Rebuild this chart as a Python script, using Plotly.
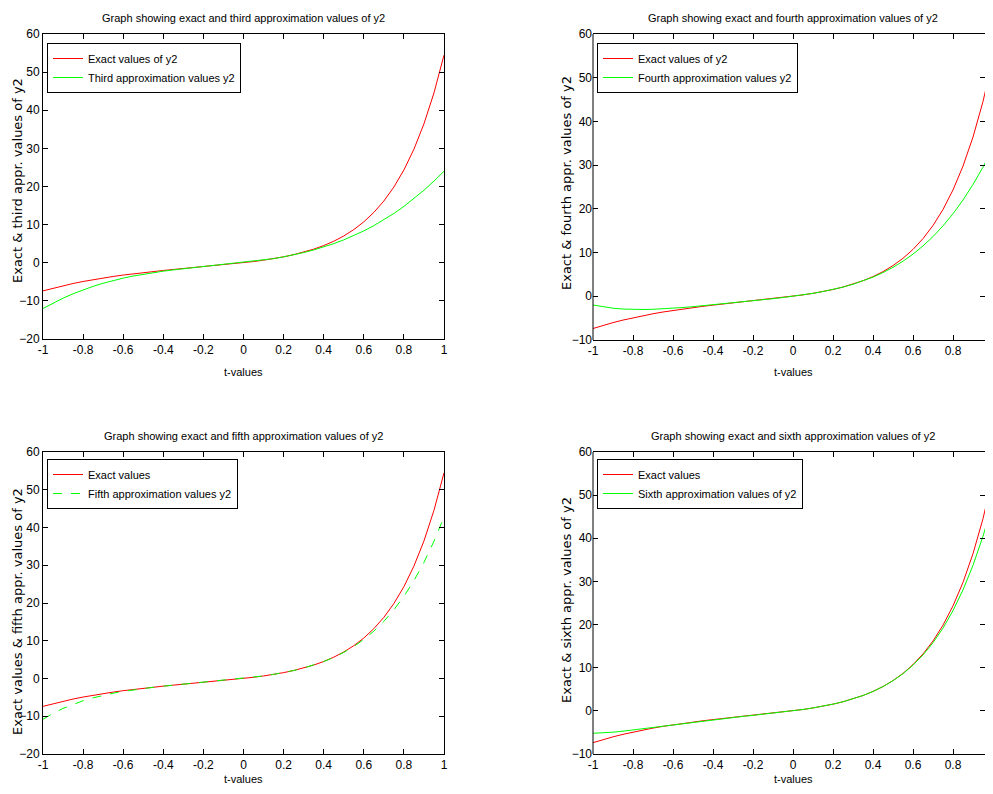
import plotly.graph_objects as go

# ---------------- data ----------------
t_values = [-1.0, -0.95, -0.9, -0.85, -0.8, -0.75, -0.7, -0.65, -0.6, -0.55, -0.5,
            -0.45, -0.4, -0.35, -0.3, -0.25, -0.2, -0.15, -0.1, -0.05, 0.0,
            0.05, 0.1, 0.15, 0.2, 0.25, 0.3, 0.35, 0.4, 0.45, 0.5,
            0.55, 0.6, 0.65, 0.7, 0.75, 0.8, 0.85, 0.9, 0.95, 1.0]

exact_y2 = [-7.371, -6.664, -6.022, -5.441, -4.912, -4.432, -3.994, -3.595, -3.229, -2.893, -2.583,
            -2.294, -2.024, -1.767, -1.521, -1.281, -1.042, -0.801, -0.551, -0.287, 0.0,
            0.317, 0.673, 1.081, 1.555, 2.112, 2.771, 3.559, 4.504, 5.643, 7.021,
            8.692, 10.722, 13.191, 16.198, 19.862, 24.331, 29.781, 36.433, 44.552, 54.463]

third_y2 = [-12.0, -10.574, -9.288, -8.135, -7.104, -6.188, -5.376, -4.661, -4.032, -3.482, -3.0,
            -2.579, -2.208, -1.880, -1.584, -1.313, -1.056, -0.806, -0.552, -0.287, 0.0,
            0.317, 0.672, 1.076, 1.536, 2.063, 2.664, 3.350, 4.128, 5.009, 6.0,
            7.112, 8.352, 9.731, 11.256, 12.938, 14.784, 16.805, 19.008, 21.404, 24.0]

fourth_y2 = [-2.0, -2.428, -2.727, -2.914, -3.008, -3.023, -2.975, -2.875, -2.736, -2.566, -2.375,
             -2.168, -1.952, -1.729, -1.503, -1.273, -1.040, -0.800, -0.551, -0.286, 0.0,
             0.317, 0.673, 1.081, 1.552, 2.102, 2.745, 3.500, 4.384, 5.419, 6.625,
             8.027, 9.648, 11.516, 13.657, 16.102, 18.880, 22.025, 25.569, 29.549, 34.0]

fifth_y2 = [-10.8, -9.238, -7.923, -6.819, -5.892, -5.112, -4.454, -3.897, -3.420, -3.009, -2.650,
            -2.331, -2.042, -1.776, -1.524, -1.282, -1.043, -0.801, -0.551, -0.286, 0.0,
            0.317, 0.673, 1.081, 1.555, 2.110, 2.766, 3.546, 4.474, 5.581, 6.900,
            8.470, 10.332, 12.537, 15.136, 18.190, 21.764, 25.929, 30.765, 36.358, 42.8]

sixth_y2 = [-5.2, -5.121, -4.947, -4.707, -4.424, -4.115, -3.795, -3.474, -3.159, -2.854, -2.563,
            -2.284, -2.019, -1.765, -1.520, -1.281, -1.043, -0.801, -0.551, -0.286, 0.0,
            0.317, 0.673, 1.081, 1.555, 2.112, 2.770, 3.556, 4.497, 5.628, 6.988,
            8.625, 10.593, 12.959, 15.795, 19.187, 23.232, 28.041, 33.741, 40.474, 48.4]

x_ticks = [-1, -0.8, -0.6, -0.4, -0.2, 0, 0.2, 0.4, 0.6, 0.8, 1]
x_tick_text = ["-1", "-0.8", "-0.6", "-0.4", "-0.2", "0", "0.2", "0.4", "0.6", "0.8", "1"]

titles = ["Graph showing exact and third approximation values of y2",
          "Graph showing exact and fourth approximation values of y2",
          "Graph showing exact and fifth approximation values of y2",
          "Graph showing exact and sixth approximation values of y2"]
y_titles = ["Exact & third appr. values of y2",
            "Exact & fourth appr. values of y2",
            "Exact values & fifth appr. values of y2",
            "Exact & sixth appr. values of y2"]
exact_names = ["Exact values of y2", "Exact values of y2", "Exact values", "Exact values"]
approx_names = ["Third approximation values y2", "Fourth approximation values y2",
                "Fifth approximation values y2", "Sixth approximation values of y2"]
y_ranges = [[-20, 60], [-10, 60], [-20, 60], [-10, 60]]

# ---------------- layout geometry ----------------
# page body has an 8px margin; the figure is sized so that the whole page is 993x794
OFF = 8
W, H = 993 - 2 * OFF, 794 - 2 * OFF
NARROW = "Liberation Sans Narrow, Arial Narrow, Liberation Sans, Arial, sans-serif"
WIDE = "DejaVu Sans, Arial, sans-serif"
FS_TITLE = 11
FS_TICK = 12
FS_LEG = 11

def px_x(p):
    return (p - OFF) / W

def px_y(p):
    return 1 - (p - OFF) / H

# right-hand plots run off the right edge of the picture (t=1 sits at the very edge)
right_edge_t = (W + OFF - 793) / 200.0
x_ranges = [[-1, 1], [-1, right_edge_t], [-1, 1], [-1, right_edge_t]]
x_domains = [[px_x(43), px_x(444)], [px_x(593), 1.0], [px_x(43), px_x(444)], [px_x(593), 1.0]]
y_domains = [[px_y(339), px_y(34)], [px_y(340), px_y(34)], [px_y(754), px_y(452)], [px_y(754), px_y(452)]]
legend_pos = [(47, 43), (597, 43), (47, 459), (597, 459)]
title_pos = [(243, 18), (793, 18), (243, 436), (793, 436)]
xlabel_pos = [(243, 372), (793, 372), (243, 779), (793, 779)]
ylabel_pos = [(17, 181), (566, 183), (17, 612), (566, 600)]

approx_series = [third_y2, fourth_y2, fifth_y2, sixth_y2]
approx_dash = ["solid", "solid", "dash", "solid"]

fig = go.Figure()
layout = dict(width=W, height=H, margin=dict(l=0, r=0, t=0, b=0, pad=0),
              autosize=False,
              paper_bgcolor="white", plot_bgcolor="white",
              font=dict(family=NARROW, size=FS_TICK, color="black"),
              showlegend=True)
annotations = []
shapes = []

for i in range(4):
    sfx = "" if i == 0 else str(i + 1)
    leg = "legend" if i == 0 else "legend" + str(i + 1)
    is_right = i in (1, 3)
    fig.add_trace(go.Scatter(x=t_values, y=exact_y2, mode="lines", name=exact_names[i],
                             line=dict(color="#ff0000", width=1),
                             xaxis="x" + sfx, yaxis="y" + sfx, legend=leg))
    fig.add_trace(go.Scatter(x=t_values, y=approx_series[i], mode="lines", name=approx_names[i],
                             line=dict(color="#00ff00", width=1, dash=approx_dash[i]),
                             xaxis="x" + sfx, yaxis="y" + sfx, legend=leg))
    layout["xaxis" + sfx] = dict(domain=x_domains[i], anchor="y" + sfx, range=x_ranges[i],
                                 tickvals=x_ticks, ticktext=x_tick_text,
                                 ticks="inside", ticklen=5, tickcolor="black",
                                 showline=True, linecolor="black", linewidth=1, mirror="ticks",
                                 showgrid=False, zeroline=False, automargin=False,
                                 tickfont=dict(family=NARROW, size=FS_TICK))
    ylo, yhi = y_ranges[i]
    layout["yaxis" + sfx] = dict(domain=y_domains[i], anchor="x" + sfx, range=[ylo, yhi],
                                 tickvals=list(range(ylo, yhi + 1, 10)),
                                 ticks="inside", ticklen=5, tickcolor="black",
                                 showline=not is_right, linecolor="black", linewidth=1,
                                 mirror="ticks",
                                 showgrid=False, zeroline=False, automargin=False,
                                 tickfont=dict(family=NARROW, size=FS_TICK))
    if is_right:
        # left border only (the right border lies beyond the picture edge)
        shapes.append(dict(type="line", xref="x" + sfx + " domain", yref="y" + sfx + " domain",
                           x0=0, x1=0, y0=0, y1=1, line=dict(color="black", width=1)))
    lx, ly = legend_pos[i]
    layout[leg] = dict(x=px_x(lx), y=px_y(ly), xanchor="left", yanchor="top",
                       bordercolor="black", borderwidth=1, bgcolor="white",
                       font=dict(family=NARROW, size=FS_LEG), tracegroupgap=0,
                       itemwidth=30)
    tx, ty = title_pos[i]
    annotations.append(dict(text=titles[i], x=px_x(tx), y=px_y(ty), xref="paper", yref="paper",
                            xanchor="center", yanchor="middle", showarrow=False,
                            font=dict(family=NARROW, size=FS_TITLE)))
    ax_, ay_ = xlabel_pos[i]
    annotations.append(dict(text="t-values", x=px_x(ax_), y=px_y(ay_), xref="paper", yref="paper",
                            xanchor="center", yanchor="middle", showarrow=False,
                            font=dict(family=NARROW, size=FS_TITLE)))
    bx, by = ylabel_pos[i]
    annotations.append(dict(text=y_titles[i], x=px_x(bx), y=px_y(by), xref="paper", yref="paper",
                            xanchor="center", yanchor="middle", showarrow=False, textangle=-90,
                            font=dict(family=WIDE, size=13)))

layout["annotations"] = annotations
layout["shapes"] = shapes
fig.update_layout(**layout)
fig.write_html("out.html", config={"displayModeBar": False})
